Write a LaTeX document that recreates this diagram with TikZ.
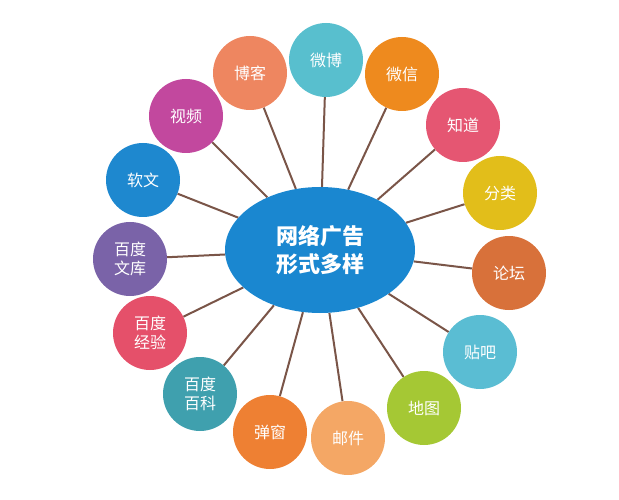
\documentclass[tikz,border=0pt]{standalone}
\usepackage{fontspec}
\setmainfont{Noto Sans CJK SC}
\usetikzlibrary{backgrounds}
\definecolor{hubblue}{HTML}{1A87D0}
\definecolor{linkbrown}{HTML}{7A5548}
\tikzset{
  bubble/.style={circle, minimum size=74pt, inner sep=0pt, text=white,
    align=center, font=\fontsize{16}{19}\selectfont},
  hub/.style={ellipse, minimum width=190pt, minimum height=126pt, fill=hubblue,
    text=white, align=center, font=\fontsize{22}{28}\selectfont\bfseries},
  link/.style={draw=linkbrown, line width=2pt}
}
\usetikzlibrary{shapes.geometric}
\begin{document}
\begin{tikzpicture}[x=1pt,y=-1pt]
      \useasboundingbox (0,0) rectangle (619,500);
      \draw
        (320,250) node[hub] (c){网络广告\\形式多样}
        (326,60) node[bubble, fill={rgb,255:red,88;green,191;blue,206}] (weibo){微博}
        (402,74) node[bubble, fill={rgb,255:red,238;green,138;blue,30}] (weixin){微信}
        (463,125) node[bubble, fill={rgb,255:red,229;green,86;blue,114}] (zhidao){知道}
        (500,193) node[bubble, fill={rgb,255:red,226;green,190;blue,26}] (fenlei){分类}
        (509,273) node[bubble, fill={rgb,255:red,216;green,113;blue,58}] (luntan){论坛}
        (480,352) node[bubble, fill={rgb,255:red,90;green,189;blue,211}] (tieba){贴吧}
        (424,408) node[bubble, fill={rgb,255:red,165;green,200;blue,52}] (ditu){地图}
        (348,438) node[bubble, fill={rgb,255:red,244;green,167;blue,101}] (youjian){邮件}
        (270,432) node[bubble, fill={rgb,255:red,238;green,128;blue,51}] (tanchuang){弹窗}
        (200,394) node[bubble, fill={rgb,255:red,63;green,160;blue,174}] (baike){百度\\百科}
        (150,333) node[bubble, fill={rgb,255:red,229;green,80;blue,106}] (jingyan){百度\\经验}
        (130,259) node[bubble, fill={rgb,255:red,122;green,99;blue,168}] (wenku){百度\\文库}
        (143,180) node[bubble, fill={rgb,255:red,30;green,136;blue,207}] (ruanwen){软文}
        (186,116) node[bubble, fill={rgb,255:red,194;green,72;blue,158}] (shipin){视频}
        (250,73) node[bubble, fill={rgb,255:red,238;green,134;blue,96}] (boke){博客};
      \begin{scope}[on background layer]
        \draw[link] (c) to (weibo);
        \draw[link] (c) to (weixin);
        \draw[link] (c) to (zhidao);
        \draw[link] (c) to (fenlei);
        \draw[link] (c) to (luntan);
        \draw[link] (c) to (tieba);
        \draw[link] (c) to (ditu);
        \draw[link] (c) to (youjian);
        \draw[link] (c) to (tanchuang);
        \draw[link] (c) to (baike);
        \draw[link] (c) to (jingyan);
        \draw[link] (c) to (wenku);
        \draw[link] (c) to (ruanwen);
        \draw[link] (c) to (shipin);
        \draw[link] (c) to (boke);
      \end{scope}
    \end{tikzpicture}
\end{document}
